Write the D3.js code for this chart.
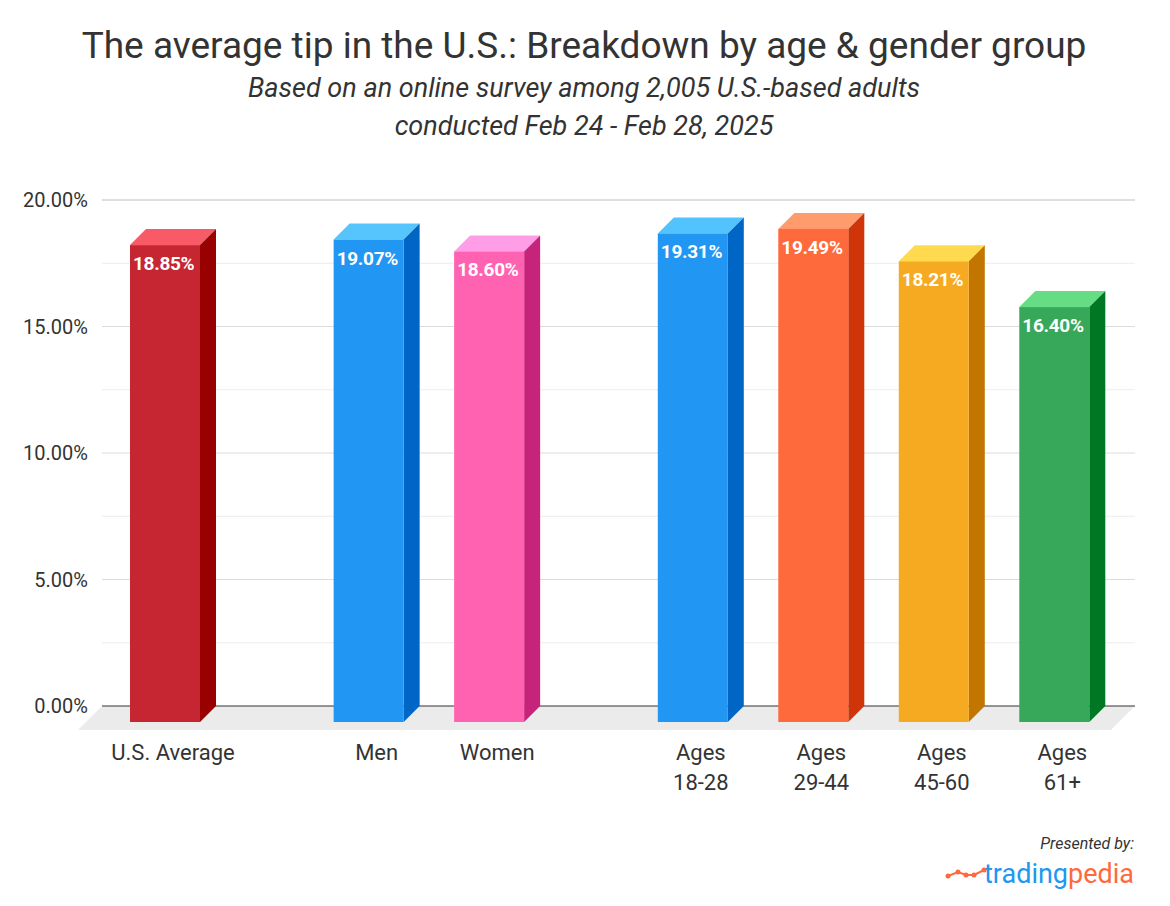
<!DOCTYPE html>
<html><head><meta charset="utf-8">
<script src="https://cdn.jsdelivr.net/npm/d3@7"></script>
<style>
html,body{margin:0;padding:0;background:#fff;}
svg{display:block;font-family:Roboto,"Noto Sans",sans-serif;}
</style></head>
<body><svg id="c" width="1170" height="906"></svg>
<script>
const categories = ["U.S. Average","Men","Women","Ages|18-28","Ages|29-44","Ages|45-60","Ages|61+"];
const groups = [0,1,1,2,2,2,2];
const values = [18.85,19.07,18.60,19.31,19.49,18.21,16.40];
const frontColors = ["#c62632","#2196f3","#ff62b0","#2196f3","#ff6a3d","#f6aa22","#37a85a"];
const topColors   = ["#f85a68","#56c5fe","#ff9ee6","#52c3ff","#ff9c6e","#ffda4f","#66dc85"];
const sideColors  = ["#990000","#0066c6","#c6237a","#0066c6","#cf3509","#c27600","#007823"];
const yTicks = [0,5,10,15,20];
const yMinor = [2.5,7.5,12.5,17.5];

const svg = d3.select("#c");
const left = 102, right = 1135;
const y = d3.scaleLinear().domain([0,20]).range([706,200]);
const gapRatio = 0.69;
const slot = d => d.i + d.g * gapRatio;
const x = d3.scaleLinear().domain([0,1]).range([130,250.5]);
const bw = 70, dep = 16, floorD = 24;

const data = categories.map((c,i)=>({c, i, g:groups[i], v:values[i]}));

// titles
svg.append("text").attr("x",584).attr("y",58).attr("text-anchor","middle")
  .attr("font-size",37).attr("fill","#333").text("The average tip in the U.S.: Breakdown by age & gender group");
svg.append("text").attr("x",584).attr("y",97).attr("text-anchor","middle").attr("font-style","italic")
  .attr("font-size",27).attr("fill","#333").text("Based on an online survey among 2,005 U.S.-based adults");
svg.append("text").attr("x",584).attr("y",135).attr("text-anchor","middle").attr("font-style","italic")
  .attr("font-size",27).attr("fill","#333").text("conducted Feb 24 - Feb 28, 2025");

// floor
const y0 = y(0);
svg.append("path").attr("fill","#ebebeb")
  .attr("d",`M${left},${y0}L${right},${y0}L${right-floorD},${y0+floorD}L${left-floorD},${y0+floorD}Z`);

// gridlines
svg.append("g").selectAll("line").data(yMinor).join("line")
  .attr("x1",left).attr("x2",right).attr("y1",d=>y(d)).attr("y2",d=>y(d))
  .attr("stroke","#ececec").attr("stroke-width",1);
svg.append("g").selectAll("line").data(yTicks.filter(d=>d>0)).join("line")
  .attr("x1",left).attr("x2",right).attr("y1",d=>y(d)).attr("y2",d=>y(d))
  .attr("stroke",d=>d===20?"#c0c0c0":"#dcdcdc").attr("stroke-width",1);
svg.append("line").attr("x1",left).attr("x2",right).attr("y1",y0).attr("y2",y0)
  .attr("stroke","#333").attr("stroke-width",1);

// y labels
svg.append("g").selectAll("text").data(yTicks).join("text")
  .attr("x",88).attr("y",d=>y(d)+7).attr("text-anchor","end")
  .attr("font-size",20).attr("fill","#333").text(d=>d.toFixed(2)+"%");

// bars
const bars = svg.append("g").selectAll("g").data(data).join("g");
bars.each(function(d){
  const g = d3.select(this);
  const x0 = x(slot(d)), x1 = x0 + bw;
  const yt = y(d.v) + dep, yb = y0 + dep;
  g.append("path").attr("fill",topColors[d.i])
    .attr("d",`M${x0},${yt}L${x0+dep},${yt-dep}L${x1+dep},${yt-dep}L${x1},${yt}Z`);
  g.append("path").attr("fill",sideColors[d.i])
    .attr("d",`M${x1},${yt}L${x1+dep},${yt-dep}L${x1+dep},${yb-dep}L${x1},${yb}Z`);
  g.append("rect").attr("x",x0).attr("y",yt).attr("width",bw).attr("height",yb-yt)
    .attr("fill",frontColors[d.i]);
  g.append("text").attr("x",x0+3).attr("y",yt+25).attr("font-size",19).attr("font-weight","bold")
    .attr("letter-spacing","-0.3").attr("fill","#fff").text(d.v.toFixed(2)+"%");
  const lines = d.c.split("|");
  const t = g.append("text").attr("text-anchor","middle").attr("font-size",22).attr("fill","#333");
  lines.forEach((l,k)=>t.append("tspan").attr("x",x0+(bw+dep)/2).attr("y",760+k*30).text(l));
});

// branding
svg.append("text").attr("x",1134).attr("y",849).attr("text-anchor","end").attr("font-style","italic")
  .attr("font-size",16).attr("fill","#333").text("Presented by:");
const brand = svg.append("text").attr("x",1134).attr("y",883).attr("text-anchor","end").attr("font-size",27);
brand.append("tspan").attr("fill","#2196f3").text("trading");
brand.append("tspan").attr("fill","#ff6a3d").text("pedia");
const logoPts = [[948,876],[958,872],[966,875],[974,875],[984,870]];
svg.append("path").attr("d",d3.line()(logoPts)).attr("fill","none").attr("stroke","#ff6a3d").attr("stroke-width",2);
svg.append("g").selectAll("circle").data(logoPts).join("circle")
  .attr("cx",d=>d[0]).attr("cy",d=>d[1]).attr("r",2.5).attr("fill","#ff6a3d");
</script></body></html>
